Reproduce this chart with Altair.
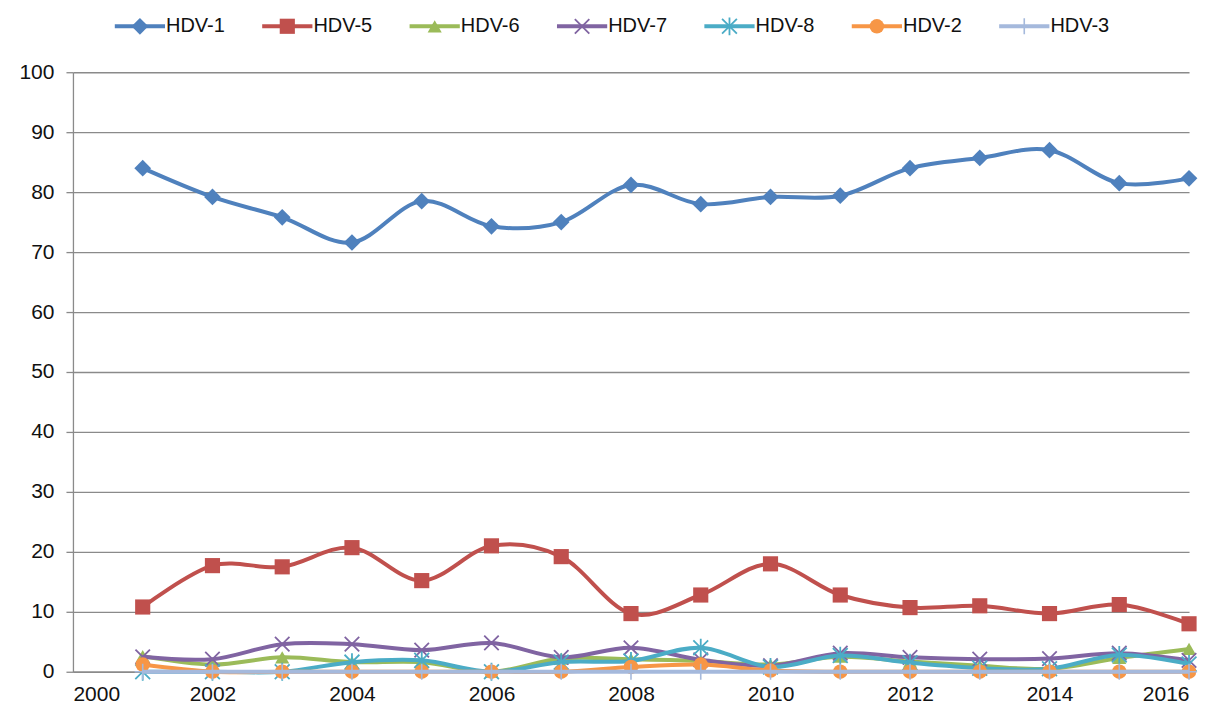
import altair as alt
import pandas as pd

years = list(range(2001, 2017))
series_names = ["HDV-1", "HDV-5", "HDV-6", "HDV-7", "HDV-8", "HDV-2", "HDV-3"]
hdv1 = [84.0, 79.2, 75.8, 71.6, 78.5, 74.3, 75.0, 81.2, 78.0, 79.2, 79.4, 84.0, 85.7, 87.0, 81.5, 82.3]
hdv5 = [10.8, 17.7, 17.5, 20.7, 15.2, 21.0, 19.2, 9.7, 12.8, 18.0, 12.8, 10.7, 11.0, 9.7, 11.2, 8.0]
hdv6 = [2.6, 1.2, 2.4, 1.6, 1.6, 0.0, 2.2, 2.1, 1.8, 1.2, 2.5, 1.7, 1.0, 0.5, 2.3, 3.8]
hdv7 = [2.5, 2.1, 4.6, 4.6, 3.6, 4.8, 2.4, 4.0, 2.0, 1.0, 3.1, 2.4, 2.1, 2.2, 3.1, 1.9]
hdv8 = [0.0, 0.0, 0.0, 1.6, 1.9, 0.0, 1.6, 1.8, 4.0, 0.8, 2.7, 1.5, 0.6, 0.5, 2.8, 1.3]
hdv2 = [1.2, 0.0, 0.0, 0.0, 0.0, 0.0, 0.0, 0.8, 1.2, 0.2, 0.0, 0.0, 0.0, 0.0, 0.0, 0.0]
hdv3 = [0.0] * 16
values = [hdv1, hdv5, hdv6, hdv7, hdv8, hdv2, hdv3]

colors = ["#4F81BD", "#C0504D", "#9BBB59", "#8064A2", "#4BACC6", "#F79646", "#A5B9DC"]
XSHAPE = "M-1,-1L1,1M-1,1L1,-1"
ASTER = "M-1,-1L1,1M-1,1L1,-1M0,-1.2L0,1.2"
PLUS = "M-1,0L1,0M0,-1L0,1"
# (shape, filled, size, strokeWidth)
markers = [
    ("diamond", True, 280, 0),
    ("square", True, 230, 0),
    ("triangle-up", True, 200, 0),
    (XSHAPE, False, 210, 1.8),
    (ASTER, False, 220, 1.8),
    ("circle", True, 210, 0),
    (PLUS, False, 260, 1.6),
]

FONT = "Liberation Sans"
xscale = alt.Scale(domain=[2000, 2016], nice=False, zero=False)
yscale = alt.Scale(domain=[0, 100], nice=False)

layers = []
axis_df = pd.DataFrame({"year": [2000, 2016], "value": [0, 100]})
axes = alt.Chart(axis_df).mark_point(opacity=0).encode(
    x=alt.X("year:Q", scale=xscale, title=None,
            axis=alt.Axis(values=list(range(2000, 2017, 2)), format="d", grid=False,
                          ticks=False, labelFontSize=21, labelFont=FONT, labelColor="#111",
                          labelPadding=12, domainColor="#8a8a8a", domainWidth=1.3)),
    y=alt.Y("value:Q", scale=yscale, title=None,
            axis=alt.Axis(values=list(range(0, 101, 10)), grid=True, gridColor="#8a8a8a",
                          gridWidth=1.3, tickSize=7, tickColor="#8a8a8a", tickWidth=1.3,
                          labelFontSize=21, labelFont=FONT, labelColor="#111",
                          labelPadding=12, domainColor="#8a8a8a", domainWidth=1.3)),
)
layers.append(axes)

for i, name in enumerate(series_names):
    df = pd.DataFrame({"year": years, "value": values[i]})
    shape, filled, size, sw = markers[i]
    enc = dict(x=alt.X("year:Q", scale=xscale), y=alt.Y("value:Q", scale=yscale))
    line = alt.Chart(df).mark_line(color=colors[i], strokeWidth=4, interpolate="cardinal").encode(**enc)
    if filled:
        pt = alt.Chart(df).mark_point(shape=shape, filled=True, size=size, color=colors[i], opacity=1).encode(**enc)
    else:
        pt = alt.Chart(df).mark_point(shape=shape, filled=False, size=size, stroke=colors[i],
                                      strokeWidth=sw, opacity=1).encode(**enc)
    layers += [line, pt]

LEG_Y = -46
for i, name in enumerate(series_names):
    pos = 2000.96 + 2.113 * i
    shape, filled, size, sw = markers[i]
    ldf = pd.DataFrame({"x": [pos], "x1": [pos - 0.36], "x2": [pos + 0.36], "label": [name]})
    rule = alt.Chart(ldf).mark_rule(color=colors[i], strokeWidth=4).encode(
        x=alt.X("x1:Q", scale=xscale), x2="x2:Q", y=alt.value(LEG_Y))
    if filled:
        lp = alt.Chart(ldf).mark_point(shape=shape, filled=True, size=size, color=colors[i], opacity=1).encode(
            x=alt.X("x:Q", scale=xscale), y=alt.value(LEG_Y))
    else:
        lp = alt.Chart(ldf).mark_point(shape=shape, filled=False, size=size, stroke=colors[i],
                                       strokeWidth=sw, opacity=1).encode(
            x=alt.X("x:Q", scale=xscale), y=alt.value(LEG_Y))
    txt = alt.Chart(ldf).mark_text(align="left", baseline="middle", dx=1, fontSize=20,
                                   font=FONT, color="#111").encode(
        x=alt.X("x2:Q", scale=xscale), y=alt.value(LEG_Y), text="label:N")
    layers += [rule, lp, txt]

chart = alt.layer(*layers).properties(
    width=1117, height=600,
    autosize=alt.AutoSizeParams(type="none"),
    padding={"left": 65, "top": 64, "right": 35, "bottom": 40},
).configure_view(stroke=None)

chart.save("out.html", embed_options={"renderer": "svg", "actions": False})
